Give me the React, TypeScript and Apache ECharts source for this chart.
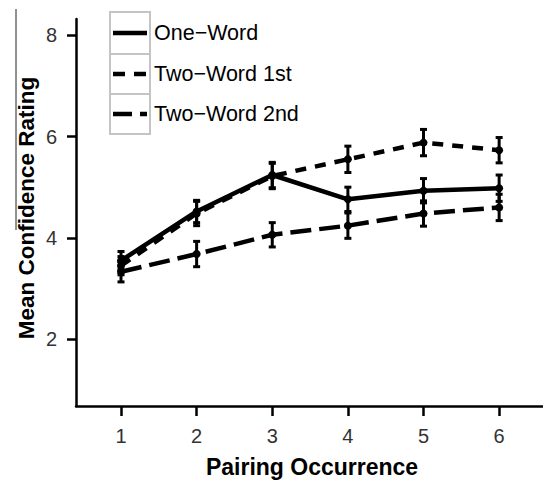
import React, { useEffect, useRef } from "react";
import * as echarts from "echarts";

const categories = [1, 2, 3, 4, 5, 6];
const yTicks = [2, 4, 6, 8];
const seriesNames = ["One\u2212Word", "Two\u2212Word 1st", "Two\u2212Word 2nd"];
const oneWord = [3.55, 4.52, 5.24, 4.76, 4.93, 4.98];
const oneWordErr = [0.18, 0.22, 0.25, 0.24, 0.24, 0.26];
const twoWord1st = [3.45, 4.48, 5.22, 5.55, 5.88, 5.73];
const twoWord1stErr = [0.18, 0.24, 0.25, 0.26, 0.26, 0.25];
const twoWord2nd = [3.33, 3.68, 4.06, 4.24, 4.48, 4.6];
const twoWord2ndErr = [0.2, 0.25, 0.24, 0.25, 0.25, 0.26];

const FONT = "'Liberation Sans', Arial, Helvetica, sans-serif";

const dashes: (number[] | "solid")[] = ["solid", [11, 9], [21, 8]];
const legendDashes: (number[] | null)[] = [null, [12, 9], [19, 8]];

function lineSeries(name: string, vals: number[], dash: number[] | "solid") {
  return {
    name,
    type: "line",
    data: categories.map((c, i) => [c, vals[i]]),
    symbol: "circle",
    symbolSize: 8,
    itemStyle: { color: "#000" },
    lineStyle: { color: "#000", width: 4.5, type: dash },
    z: 3,
  };
}

function errSeries(vals: number[], errs: number[]) {
  return {
    type: "custom",
    data: categories.map((c, i) => [c, vals[i] - errs[i], vals[i] + errs[i]]),
    encode: { x: 0, y: [1, 2] },
    z: 4,
    renderItem: (params: any, api: any) => {
      const x = api.value(0);
      const lo = api.value(1);
      const hi = api.value(2);
      const pT = api.coord([x, hi]);
      const pB = api.coord([x, lo]);
      const hw = 3.5;
      const st = { stroke: "#000", lineWidth: 3 };
      return {
        type: "group",
        children: [
          { type: "line", shape: { x1: pT[0], y1: pT[1], x2: pB[0], y2: pB[1] }, style: st },
          { type: "line", shape: { x1: pT[0] - hw, y1: pT[1], x2: pT[0] + hw, y2: pT[1] }, style: st },
          { type: "line", shape: { x1: pB[0] - hw, y1: pB[1], x2: pB[0] + hw, y2: pB[1] }, style: st },
        ],
      };
    },
  };
}

export default function App() {
  const ref = useRef<HTMLDivElement>(null);
  useEffect(() => {
    if (!ref.current) return;
    const chart = echarts.init(ref.current, undefined, { renderer: "svg" });
    const cellTops = [12, 54, 94];
    const cellH = [42, 40, 40];
    const legendGraphics: any[] = [];
    seriesNames.forEach((n, i) => {
      const cy = cellTops[i] + cellH[i] / 2;
      legendGraphics.push({
        type: "rect",
        shape: { x: 110, y: cellTops[i], width: 40, height: cellH[i] },
        style: { fill: "#fff", stroke: "#c4c4c4", lineWidth: 2 },
        z: 10,
      });
      legendGraphics.push({
        type: "line",
        shape: { x1: 113, y1: cy, x2: 147, y2: cy },
        style: { stroke: "#000", lineWidth: 4.5, lineDash: legendDashes[i] },
        z: 11,
      });
      legendGraphics.push({
        type: "text",
        x: 154,
        y: cy,
        style: {
          text: n,
          font: `21.5px ${FONT}`,
          fill: "#000",
          verticalAlign: "middle",
          align: "left",
        },
        z: 11,
      });
    });

    chart.setOption({
      animation: false,
      backgroundColor: "#fff",
      grid: { left: 76, right: 0, top: 19, bottom: 76, containLabel: false },
      xAxis: {
        type: "value",
        min: 0.405,
        max: 6.58,
        splitLine: { show: false },
        axisLine: { show: true, onZero: false, lineStyle: { color: "#000", width: 2.5 } },
        axisTick: { show: true, customValues: categories, length: 10, lineStyle: { color: "#000", width: 2.5 } },
        axisLabel: { customValues: categories, fontSize: 20, color: "#333", margin: 20, fontFamily: FONT },
      },
      yAxis: {
        type: "value",
        min: 0.68,
        max: 8.32,
        splitLine: { show: false },
        axisLine: { show: true, onZero: false, lineStyle: { color: "#000", width: 2.5 } },
        axisTick: { show: true, customValues: yTicks, length: 9, lineStyle: { color: "#000", width: 2.5 } },
        axisLabel: { customValues: yTicks, fontSize: 20, color: "#333", margin: 19, fontFamily: FONT },
      },
      series: [
        lineSeries(seriesNames[2], twoWord2nd, dashes[2]),
        lineSeries(seriesNames[1], twoWord1st, dashes[1]),
        lineSeries(seriesNames[0], oneWord, dashes[0]),
        errSeries(twoWord2nd, twoWord2ndErr),
        errSeries(twoWord1st, twoWord1stErr),
        errSeries(oneWord, oneWordErr),
      ],
      graphic: [
        {
          type: "line",
          shape: { x1: 16, y1: 9, x2: 16, y2: 230 },
          style: { stroke: "#222", lineWidth: 1 },
          z: 12,
        },
        {
          type: "text",
          x: 312,
          y: 467,
          style: {
            text: "Pairing Occurrence",
            font: `bold 23px ${FONT}`,
            fill: "#000",
            align: "center",
            verticalAlign: "middle",
          },
        },
        {
          type: "text",
          x: 26,
          y: 208,
          rotation: Math.PI / 2,
          style: {
            text: "Mean Confidence Rating",
            font: `bold 22.5px ${FONT}`,
            fill: "#000",
            align: "center",
            verticalAlign: "middle",
          },
        },
        ...legendGraphics,
      ],
    });
    return () => chart.dispose();
  }, []);
  return (
    <div
      ref={ref}
      style={{ position: "absolute", left: 0, top: 0, width: 543, height: 482 }}
    />
  );
}
